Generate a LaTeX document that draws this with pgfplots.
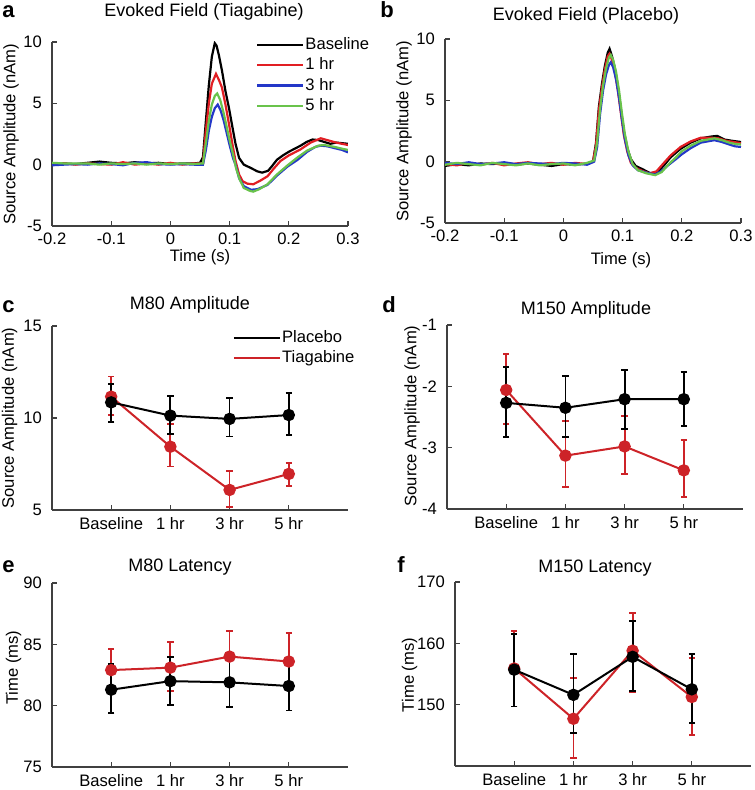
\documentclass[border=0pt]{standalone}
\usepackage{fontspec}
\setmainfont{Liberation Sans}
\usepackage{pgfplots}
\pgfplotsset{compat=1.18}
\definecolor{mred}{RGB}{225,30,35}
\definecolor{mblue}{RGB}{35,55,200}
\definecolor{mgreen}{RGB}{105,195,75}
\definecolor{ered}{RGB}{205,35,40}
\newcommand\tk{\fontsize{8.3}{10}\selectfont}
\newcommand\ttl{\fontsize{9}{11}\selectfont}

\pgfplotsset{
  panel/.style={
    scale only axis, width=148pt, height=92pt,
    axis lines=left, axis line style={-, black!75, line width=0.6pt},
    tick align=inside, major tick length=2.5pt,
    tick style={black!75, line width=0.6pt},
    ticklabel style={font=\tk},
    yticklabel style={xshift=-1.5pt},
    /pgf/number format/assume math mode=true,
  },
  trace/.style={no marks, line width=1.1pt},
  cat/.style={panel, xmin=0, xmax=5, xtick={1,2,3,4},
    xticklabels={Baseline,1 hr,3 hr,5 hr}},
  grp/.style={mark=*, mark size=2.6pt, line width=1pt,
    error bars/y dir=both, error bars/y explicit,
    error bars/error bar style={line width=0.9pt},
    error bars/error mark options={rotate=90, mark size=1.6pt, line width=0.9pt}},
  evlegend/.style={legend cell align=left,
    legend style={draw=none, fill=none, font=\tk, inner sep=0pt, row sep=1.5pt,
      nodes={inner sep=0.6pt}},
    legend image code/.code={\draw[#1] (0pt,0pt) -- (23pt,0pt);}}
}

\begin{document}
\begin{tikzpicture}
\path[use as bounding box] (0,0) rectangle (377pt,395pt);

% ---- a: evoked field, tiagabine
\begin{axis}[panel, at={(26pt,282pt)}, anchor=south west,
  xmin=-0.2, xmax=0.3, ymin=-5, ymax=10,
  xtick={-0.2,-0.1,0,0.1,0.2,0.3}, xticklabels={-0.2,-0.1,0,0.1,0.2,0.3},
  ytick={-5,0,5,10}, evlegend,
  legend style={at={(0.688,1.035)}, anchor=north west}]
\addplot[trace, black] coordinates {
(-0.2,0.1)(-0.18,0.1)(-0.16,0.05)(-0.14,0.15)(-0.12,0.25)(-0.10,0.15)(-0.08,0.1)
(-0.06,0.2)(-0.04,0.1)(-0.02,0.15)(0,0.05)(0.02,0.1)(0.04,0.1)(0.05,0.15)
(0.055,0.6)(0.06,3.6)(0.065,6.5)(0.07,8.8)(0.075,9.9)(0.078,9.7)(0.082,8.9)
(0.087,7.7)(0.093,6.0)(0.099,4.6)(0.105,3.0)(0.11,1.7)(0.116,0.55)(0.124,0.0)
(0.135,-0.25)(0.147,-0.55)(0.155,-0.65)(0.165,-0.5)(0.172,-0.1)(0.18,0.4)
(0.19,0.75)(0.2,1.05)(0.21,1.3)(0.22,1.55)(0.23,1.85)(0.24,2.05)(0.25,2.0)
(0.26,1.85)(0.27,1.7)(0.28,1.8)(0.29,1.75)(0.3,1.7)};
\addlegendentry{Baseline}
\addplot[trace, mred] coordinates {
(-0.2,0.0)(-0.18,0.1)(-0.16,0.0)(-0.14,0.1)(-0.12,0.05)(-0.10,0.0)(-0.08,0.2)
(-0.06,0.0)(-0.04,0.1)(-0.02,0.0)(0,0.15)(0.02,0.0)(0.04,0.1)(0.055,0.1)
(0.06,2.8)(0.065,5.0)(0.07,6.6)(0.077,7.4)(0.082,6.9)(0.087,6.3)(0.093,4.9)
(0.099,3.3)(0.105,1.6)(0.11,0.3)(0.116,-0.8)(0.122,-1.35)(0.13,-1.55)(0.14,-1.6)
(0.152,-1.3)(0.164,-0.95)(0.175,-0.3)(0.186,0.3)(0.2,0.75)(0.22,1.25)
(0.237,1.8)(0.254,2.15)(0.265,2.0)(0.28,1.8)(0.3,1.6)};
\addlegendentry{1 hr}
\addplot[trace, mblue] coordinates {
(-0.2,-0.05)(-0.18,0.0)(-0.16,0.05)(-0.14,0.0)(-0.12,0.1)(-0.1,0.05)(-0.08,-0.05)
(-0.06,0.15)(-0.04,0.2)(-0.02,0.05)(0,0.0)(0.02,0.05)(0.04,0.0)(0.055,0.0)
(0.06,1.2)(0.065,2.8)(0.07,3.9)(0.075,4.6)(0.08,4.9)(0.085,4.4)(0.09,3.6)
(0.095,2.6)(0.1,1.6)(0.106,0.5)(0.11,0.0)(0.116,-1.1)(0.124,-1.75)(0.136,-2.05)
(0.147,-2.0)(0.164,-1.65)(0.181,-0.85)(0.198,-0.15)(0.215,0.4)(0.231,1.05)
(0.245,1.45)(0.254,1.55)(0.265,1.5)(0.277,1.35)(0.29,1.2)(0.3,1.0)};
\addlegendentry{3 hr}
\addplot[trace, mgreen] coordinates {
(-0.2,0.15)(-0.18,0.1)(-0.16,0.1)(-0.14,0.1)(-0.12,0.0)(-0.1,0.1)(-0.08,0.05)
(-0.06,0.1)(-0.04,0.0)(-0.02,0.1)(0,0.05)(0.02,0.1)(0.04,0.05)(0.055,0.1)
(0.06,1.8)(0.065,3.6)(0.07,4.9)(0.075,5.6)(0.079,5.8)(0.084,5.3)(0.09,4.2)
(0.095,3.1)(0.1,2.0)(0.106,0.8)(0.111,-0.3)(0.117,-1.2)(0.124,-1.9)(0.135,-2.15)
(0.14,-2.2)(0.15,-2.0)(0.164,-1.6)(0.18,-0.8)(0.198,-0.05)(0.215,0.6)
(0.231,1.15)(0.25,1.55)(0.26,1.6)(0.277,1.45)(0.29,1.3)(0.3,1.2)};
\addlegendentry{5 hr}
\end{axis}

% ---- b: evoked field, placebo
\begin{axis}[panel, at={(222.5pt,283.5pt)}, anchor=south west,
  xmin=-0.2, xmax=0.3, ymin=-5, ymax=10,
  xtick={-0.2,-0.1,0,0.1,0.2,0.3}, xticklabels={-0.2,-0.1,0,0.1,0.2,0.3},
  ytick={-5,0,5,10}]
\addplot[trace, black] coordinates {
(-0.2,-0.35)(-0.18,-0.2)(-0.16,-0.3)(-0.14,-0.15)(-0.12,-0.2)(-0.10,-0.1)(-0.08,-0.25)
(-0.06,-0.15)(-0.04,-0.25)(-0.02,-0.35)(0,-0.2)(0.02,-0.25)(0.04,-0.15)(0.05,0.0)
(0.055,1.5)(0.06,4.5)(0.065,6.3)(0.07,7.8)(0.075,8.9)(0.078,9.2)(0.082,8.6)
(0.087,7.6)(0.092,6.1)(0.097,4.3)(0.102,2.5)(0.108,1.1)(0.114,0.2)(0.122,-0.35)
(0.133,-0.6)(0.147,-0.95)(0.159,-0.85)(0.17,-0.3)(0.181,0.35)(0.198,1.05)
(0.215,1.55)(0.232,1.9)(0.25,2.05)(0.26,2.1)(0.272,1.8)(0.285,1.7)(0.3,1.6)};
\addplot[trace, mred] coordinates {
(-0.2,-0.2)(-0.18,-0.3)(-0.16,-0.1)(-0.14,-0.25)(-0.12,-0.1)(-0.10,-0.3)(-0.08,-0.15)
(-0.06,-0.05)(-0.04,-0.2)(-0.02,-0.1)(0,-0.25)(0.02,-0.1)(0.04,-0.2)(0.05,0.0)
(0.055,1.3)(0.06,4.2)(0.065,6.0)(0.07,7.5)(0.075,8.6)(0.078,8.8)(0.082,8.3)
(0.087,7.3)(0.092,5.8)(0.097,4.0)(0.102,2.2)(0.108,0.8)(0.114,-0.1)(0.122,-0.5)
(0.133,-0.75)(0.145,-0.95)(0.157,-0.8)(0.168,-0.2)(0.181,0.5)(0.198,1.2)
(0.215,1.65)(0.232,1.95)(0.25,1.95)(0.262,1.9)(0.275,1.7)(0.288,1.6)(0.3,1.5)};
\addplot[trace, mblue] coordinates {
(-0.2,-0.1)(-0.18,-0.2)(-0.16,-0.05)(-0.14,-0.2)(-0.12,-0.15)(-0.10,-0.05)(-0.08,-0.2)
(-0.06,-0.1)(-0.04,-0.15)(-0.02,-0.2)(0,-0.1)(0.02,-0.15)(0.04,-0.25)(0.052,0.0)
(0.057,1.2)(0.062,3.9)(0.067,5.8)(0.072,7.1)(0.077,7.9)(0.08,8.1)(0.084,7.7)
(0.089,6.7)(0.094,5.2)(0.099,3.4)(0.104,1.8)(0.11,0.5)(0.117,-0.3)(0.126,-0.7)
(0.14,-0.9)(0.155,-1.05)(0.166,-0.75)(0.178,-0.25)(0.19,0.2)(0.2,0.6)
(0.215,1.1)(0.232,1.55)(0.255,1.75)(0.268,1.6)(0.28,1.4)(0.29,1.25)(0.3,1.2)};
\addplot[trace, mgreen] coordinates {
(-0.2,-0.25)(-0.18,-0.1)(-0.16,-0.2)(-0.14,-0.3)(-0.12,-0.1)(-0.10,-0.2)(-0.08,-0.3)
(-0.06,-0.15)(-0.04,-0.3)(-0.02,-0.2)(0,-0.15)(0.02,-0.3)(0.04,-0.1)(0.052,0.1)
(0.057,1.6)(0.062,4.3)(0.067,6.2)(0.072,7.6)(0.077,8.5)(0.08,8.7)(0.084,8.3)
(0.089,7.3)(0.094,5.8)(0.099,3.9)(0.104,2.2)(0.11,0.8)(0.117,-0.2)(0.126,-0.7)
(0.14,-0.95)(0.155,-1.1)(0.166,-0.85)(0.178,-0.2)(0.19,0.35)(0.2,0.85)
(0.215,1.3)(0.232,1.7)(0.255,1.9)(0.268,1.75)(0.28,1.55)(0.29,1.45)(0.3,1.4)};
\end{axis}

% ---- c: M80 amplitude
\begin{axis}[cat, at={(26pt,140pt)}, anchor=south west,
  ymin=5, ymax=15, ytick={5,10,15}, evlegend,
  legend style={at={(0.61,0.985)}, anchor=north west}]
\addlegendimage{black, line width=1pt}\addlegendentry{Placebo}
\addlegendimage{ered, line width=1pt}\addlegendentry{Tiagabine}
\addplot[grp, ered, forget plot] coordinates {
(1,11.16) += (0,1.09) -= (0,1.0)
(2,8.44) += (0,1.22) -= (0,1.08)
(3,6.09) += (0,1.03) -= (0,0.91)
(4,6.96) += (0,0.61) -= (0,0.64)};
\addplot[grp, black, forget plot] coordinates {
(1,10.85) += (0,1.0) -= (0,1.05)
(2,10.13) += (0,1.07) -= (0,1.0)
(3,9.95) += (0,1.12) -= (0,0.96)
(4,10.16) += (0,1.18) -= (0,1.08)};
\end{axis}

% ---- d: M150 amplitude
\begin{axis}[cat, at={(223.5pt,140.5pt)}, anchor=south west,
  ymin=-4, ymax=-1, ytick={-4,-3,-2,-1}]
\addplot[grp, ered] coordinates {
(1,-2.06) += (0,0.59) -= (0,0.55)
(2,-3.13) += (0,0.56) -= (0,0.51)
(3,-2.98) += (0,0.49) -= (0,0.45)
(4,-3.37) += (0,0.49) -= (0,0.43)};
\addplot[grp, black] coordinates {
(1,-2.27) += (0,0.59) -= (0,0.56)
(2,-2.35) += (0,0.52) -= (0,0.48)
(3,-2.21) += (0,0.48) -= (0,0.49)
(4,-2.21) += (0,0.44) -= (0,0.44)};
\end{axis}

% ---- e: M80 latency
\begin{axis}[cat, at={(26pt,11.5pt)}, anchor=south west,
  ymin=75, ymax=90, ytick={75,80,85,90}]
\addplot[grp, ered] coordinates {
(1,82.9) += (0,1.75) -= (0,1.75)
(2,83.1) += (0,2.1) -= (0,1.9)
(3,84.0) += (0,2.1) -= (0,2.0)
(4,83.6) += (0,2.3) -= (0,2.1)};
\addplot[grp, black] coordinates {
(1,81.3) += (0,2.1) -= (0,1.9)
(2,82.0) += (0,2.0) -= (0,1.95)
(3,81.9) += (0,2.0) -= (0,2.0)
(4,81.6) += (0,1.9) -= (0,2.0)};
\end{axis}

% ---- f: M150 latency
\begin{axis}[cat, at={(227.5pt,12pt)}, anchor=south west,
  ymin=140, ymax=170, ytick={150,160,170}]
\addplot[grp, ered] coordinates {
(1,155.9) += (0,6.1) -= (0,6.2)
(2,147.7) += (0,6.6) -= (0,6.4)
(3,158.8) += (0,6.2) -= (0,6.7)
(4,151.25) += (0,6.35) -= (0,6.25)};
\addplot[grp, black] coordinates {
(1,155.7) += (0,5.8) -= (0,6.0)
(2,151.6) += (0,6.7) -= (0,6.2)
(3,157.8) += (0,5.8) -= (0,5.6)
(4,152.5) += (0,5.7) -= (0,5.5)};
\end{axis}

% titles, panel letters, axis labels
\node[anchor=base, font=\ttl] at (102pt,386.7pt) {Evoked Field (Tiagabine)};
\node[anchor=base, font=\ttl] at (293pt,384.7pt) {Evoked Field (Placebo)};
\node[anchor=base, font=\ttl] at (95pt,240pt) {M80 Amplitude};
\node[anchor=base, font=\ttl] at (293pt,237.5pt) {M150 Amplitude};
\node[anchor=base, font=\ttl] at (90pt,109pt) {M80 Latency};
\node[anchor=base, font=\ttl] at (297.5pt,108.5pt) {M150 Latency};

\node[anchor=base west, inner sep=0pt, font=\fontsize{11}{13}\selectfont\bfseries] at (1pt,386pt) {a};
\node[anchor=base west, inner sep=0pt, font=\fontsize{11}{13}\selectfont\bfseries] at (190pt,386pt) {b};
\node[anchor=base west, inner sep=0pt, font=\fontsize{11}{13}\selectfont\bfseries] at (1pt,238.5pt) {c};
\node[anchor=base west, inner sep=0pt, font=\fontsize{11}{13}\selectfont\bfseries] at (191pt,238.5pt) {d};
\node[anchor=base west, inner sep=0pt, font=\fontsize{11}{13}\selectfont\bfseries] at (1pt,108.5pt) {e};
\node[anchor=base west, inner sep=0pt, font=\fontsize{11}{13}\selectfont\bfseries] at (198.5pt,108.5pt) {f};

\node[rotate=90, font=\tk] at (5.5pt,327.75pt) {Source Amplitude (nAm)};
\node[rotate=90, font=\tk] at (202pt,329.25pt) {Source Amplitude (nAm)};
\node[rotate=90, font=\tk] at (4.75pt,186pt) {Source Amplitude (nAm)};
\node[rotate=90, font=\tk] at (206pt,187pt) {Source Amplitude (nAm)};
\node[rotate=90, font=\tk] at (6.75pt,61.25pt) {Time (ms)};
\node[rotate=90, font=\tk] at (204.75pt,57.5pt) {Time (ms)};

\node[anchor=base, font=\tk] at (100pt,264pt) {Time (s)};
\node[anchor=base, font=\tk] at (310.5pt,262.5pt) {Time (s)};
\end{tikzpicture}
\end{document}
